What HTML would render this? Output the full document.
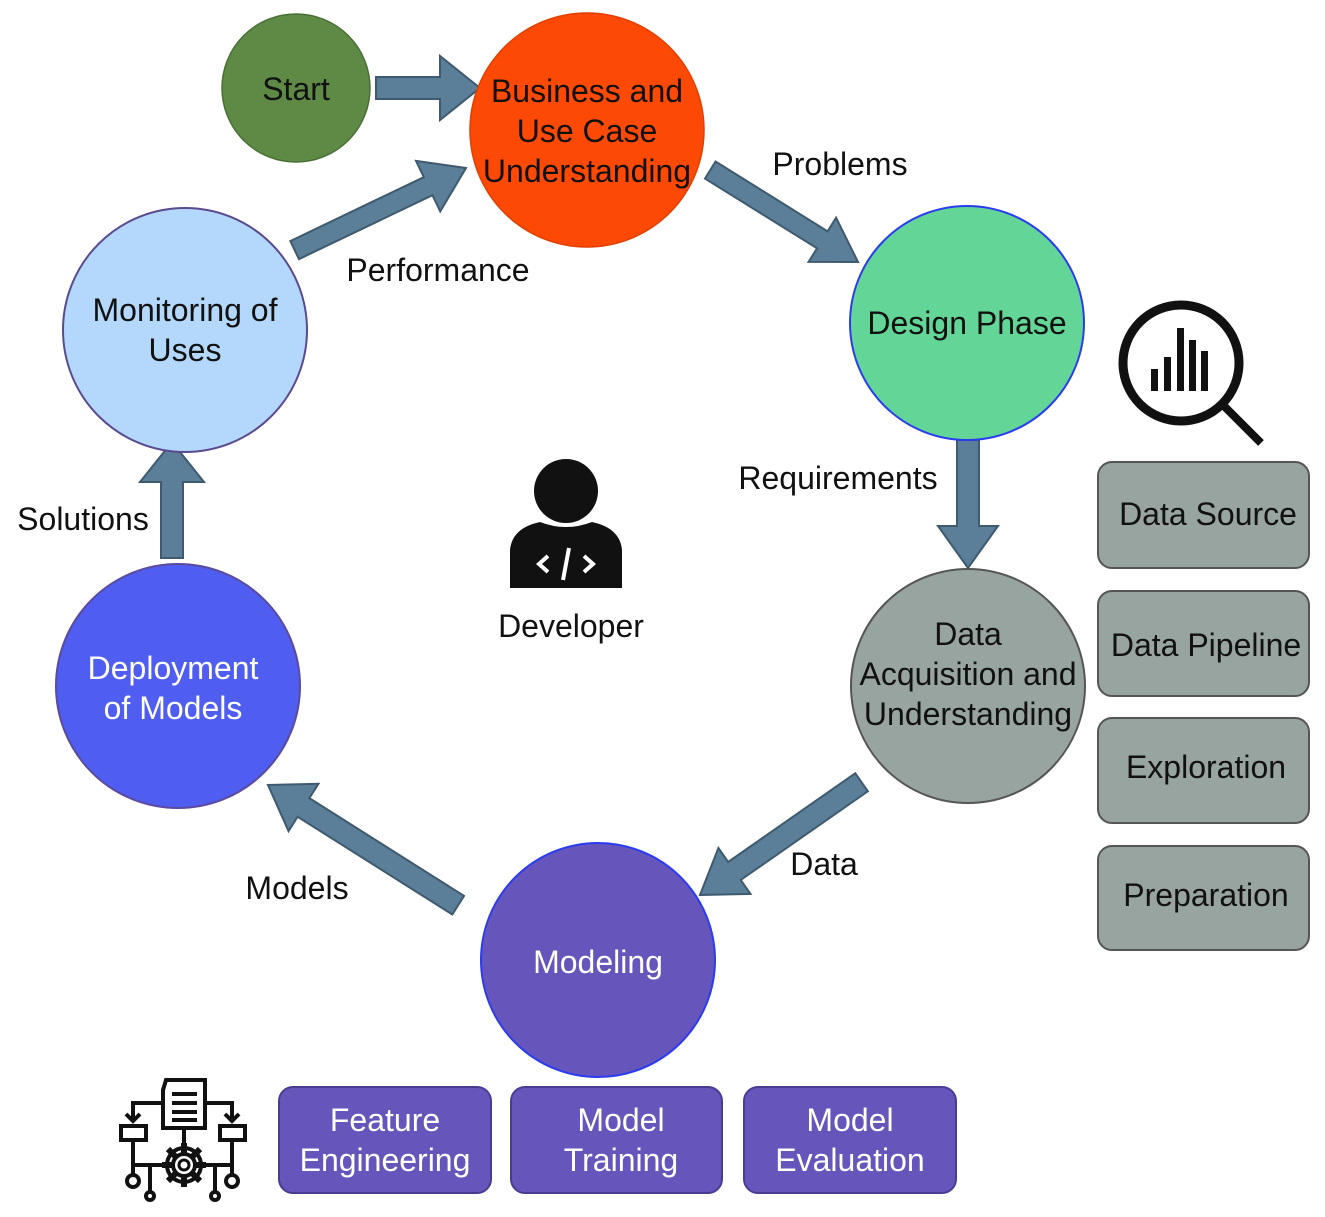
<!DOCTYPE html>
<html><head><meta charset="utf-8"><style>
html,body{margin:0;padding:0;background:#fff}
svg{display:block}
text{font-family:"Liberation Sans",sans-serif;font-size:32px;text-anchor:middle}
</style></head><body>
<svg width="1325" height="1217" viewBox="0 0 1325 1217" xmlns="http://www.w3.org/2000/svg">
<g fill="#5b7f99" stroke="#3f5a6e" stroke-width="2">
<polygon points="376,77 440,77 440,56 480,88 440,120 440,99 376,99"/>
<g transform="translate(858,262) rotate(31.9)"><polygon points="0,0 -42,-26 -42,-10 -174,-10 -174,10 -42,10 -42,26"/></g>
<g transform="translate(968,568) rotate(90)"><polygon points="0,0 -42,-30 -42,-11 -128,-11 -128,11 -42,11 -42,30"/></g>
<g transform="translate(700,895) rotate(145.1)"><polygon points="0,0 -42,-28 -42,-11 -197,-11 -197,11 -42,11 -42,28"/></g>
<g transform="translate(268,785) rotate(212.3)"><polygon points="0,0 -42,-28 -42,-11 -225,-11 -225,11 -42,11 -42,28"/></g>
<g transform="translate(172,442) rotate(-90)"><polygon points="0,0 -40,-32 -40,-11 -116,-11 -116,11 -40,11 -40,32"/></g>
<g transform="translate(466,168) rotate(-25.6)"><polygon points="0,0 -42,-28 -42,-10 -190,-10 -190,10 -42,10 -42,28"/></g>
</g>
<circle cx="296" cy="88" r="74" fill="#5e8a46" stroke="#4a7036" stroke-width="1.5"/>
<circle cx="587" cy="130" r="117" fill="#fc4a06" stroke="#e04000" stroke-width="1.5"/>
<circle cx="967" cy="323" r="117" fill="#63d597" stroke="#2a3cf0" stroke-width="2"/>
<circle cx="968" cy="686" r="117" fill="#97a4a0" stroke="#555" stroke-width="2"/>
<circle cx="598" cy="960" r="117" fill="#6655bb" stroke="#2a3cf0" stroke-width="2"/>
<circle cx="178" cy="686" r="122" fill="#4f5ef0" stroke="#5a4aa0" stroke-width="2"/>
<circle cx="185" cy="330" r="122" fill="#b3d8fb" stroke="#5a4a90" stroke-width="2"/>
<g fill="#97a49f" stroke="#555" stroke-width="2">
<rect x="1098" y="462" width="211" height="106" rx="14"/>
<rect x="1098" y="591" width="211" height="105" rx="14"/>
<rect x="1098" y="718" width="211" height="105" rx="14"/>
<rect x="1098" y="846" width="211" height="104" rx="14"/>
</g>
<g fill="#6655bb" stroke="#4a3c90" stroke-width="2">
<rect x="279" y="1087" width="212" height="106" rx="14"/>
<rect x="511" y="1087" width="211" height="106" rx="14"/>
<rect x="744" y="1087" width="212" height="106" rx="14"/>
</g>
<g fill="#111">
<text x="296" y="100">Start</text>
<text x="587" y="102">Business and</text>
<text x="587" y="142">Use Case</text>
<text x="587" y="182">Understanding</text>
<text x="967" y="334">Design Phase</text>
<text x="968" y="645">Data</text>
<text x="968" y="685">Acquisition and</text>
<text x="968" y="725">Understanding</text>
<text x="185" y="321">Monitoring of</text>
<text x="185" y="361">Uses</text>
<text x="1208" y="525">Data Source</text>
<text x="1206" y="656">Data Pipeline</text>
<text x="1206" y="778">Exploration</text>
<text x="1206" y="906">Preparation</text>
<text x="840" y="175">Problems</text>
<text x="438" y="281">Performance</text>
<text x="838" y="489">Requirements</text>
<text x="83" y="530">Solutions</text>
<text x="571" y="637">Developer</text>
<text x="824" y="875">Data</text>
<text x="297" y="899">Models</text>
</g>
<g fill="#fff">
<text x="598" y="973">Modeling</text>
<text x="173" y="679">Deployment</text>
<text x="173" y="719">of Models</text>
<text x="385" y="1131">Feature</text>
<text x="385" y="1171">Engineering</text>
<text x="621" y="1131">Model</text>
<text x="621" y="1171">Training</text>
<text x="850" y="1131">Model</text>
<text x="850" y="1171">Evaluation</text>
</g>
<circle cx="1181" cy="363" r="58" fill="none" stroke="#111" stroke-width="9"/>
<line x1="1222" y1="404" x2="1261" y2="443" stroke="#111" stroke-width="8"/>
<g fill="#111">
<rect x="1151" y="369" width="7" height="22"/>
<rect x="1164" y="357" width="7" height="34"/>
<rect x="1177" y="328" width="7" height="63"/>
<rect x="1189" y="340" width="7" height="51"/>
<rect x="1201" y="351" width="7" height="40"/>
</g>
<g fill="#111">
<circle cx="566" cy="491" r="32"/>
<path d="M510,588 L510,550 Q512,528 540,522 Q566,532 592,522 Q620,528 622,550 L622,588 Z"/>
</g>
<g stroke="#fff" stroke-width="4" fill="none">
<polyline points="548,556 539,564 548,572"/>
<polyline points="584,556 593,564 584,572"/>
<line x1="569" y1="548" x2="563" y2="580"/>
</g>
<g stroke="#111" stroke-width="4" fill="none">
<path d="M166,1080 L205,1080 L205,1128 L163,1128 L163,1090 Z"/>
<line x1="172" y1="1094" x2="197" y2="1094"/><line x1="172" y1="1103" x2="197" y2="1103"/><line x1="172" y1="1112" x2="197" y2="1112"/><line x1="172" y1="1120" x2="197" y2="1120"/>
<polyline points="163,1103 133,1103 133,1120"/><polyline points="126,1114 133,1121 140,1114"/>
<polyline points="205,1103 232,1103 232,1120"/><polyline points="225,1114 232,1121 239,1114"/>
<rect x="121" y="1126" width="25" height="14"/><rect x="220" y="1126" width="25" height="14"/>
<line x1="184" y1="1128" x2="184" y2="1145"/>
<circle cx="184" cy="1165" r="17"/><circle cx="184" cy="1165" r="6"/>
<line x1="133" y1="1140" x2="133" y2="1175"/><line x1="232" y1="1140" x2="232" y2="1175"/>
<line x1="133" y1="1165" x2="167" y2="1165"/><line x1="201" y1="1165" x2="232" y2="1165"/>
<line x1="150" y1="1165" x2="150" y2="1192"/><line x1="215" y1="1165" x2="215" y2="1192"/>
<circle cx="133" cy="1181" r="6"/><circle cx="232" cy="1181" r="6"/>
<circle cx="150" cy="1196" r="4"/><circle cx="215" cy="1196" r="4"/>
</g>
<g stroke="#111" stroke-width="6">
<line x1="184" y1="1143" x2="184" y2="1187"/><line x1="162" y1="1165" x2="206" y2="1165"/>
<line x1="168" y1="1149" x2="200" y2="1181"/><line x1="200" y1="1149" x2="168" y2="1181"/>
</g>
<circle cx="184" cy="1165" r="11" fill="#fff" stroke="#111" stroke-width="4"/>
<circle cx="184" cy="1165" r="5" fill="none" stroke="#111" stroke-width="3"/>
</svg>
</body></html>
